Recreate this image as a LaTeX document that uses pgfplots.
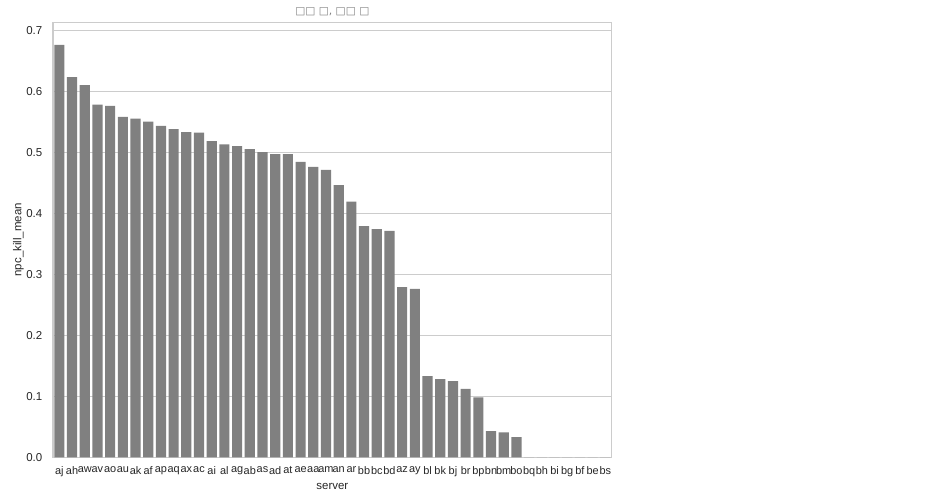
\documentclass[border=0pt]{standalone}
\usepackage{pgfplots}
\pgfplotsset{compat=1.18}
\usepackage{pgfplotstable}
\usepackage{fontspec}
\setmainfont{Liberation Sans}
\newfontfamily\boxfont{DejaVu Sans}
\definecolor{bargray}{HTML}{808080}
\definecolor{gridgray}{HTML}{CCCCCC}
\definecolor{textgray}{HTML}{262626}

% server, npc_kill_mean (sorted)
\pgfplotstableread{
idx server value
0  aj 0.676
1  ah 0.623
2  aw 0.610
3  av 0.578
4  ao 0.576
5  au 0.558
6  ak 0.555
7  af 0.550
8  ap 0.543
9  aq 0.538
10 ax 0.533
11 ac 0.532
12 ai 0.518
13 al 0.513
14 ag 0.510
15 ab 0.505
16 as 0.500
17 ad 0.497
18 at 0.497
19 ae 0.484
20 aa 0.476
21 am 0.471
22 an 0.446
23 ar 0.419
24 bb 0.379
25 bc 0.374
26 bd 0.371
27 az 0.279
28 ay 0.276
29 bl 0.133
30 bk 0.128
31 bj 0.125
32 br 0.112
33 bp 0.098
34 bn 0.043
35 bm 0.041
36 bo 0.033
37 bq 0
38 bh 0
39 bi 0
40 bg 0
41 bf 0
42 be 0
43 bs 0
}\servers

\begin{document}
\begin{tikzpicture}
\path[use as bounding box] (0,0) rectangle (710.25pt,369.75pt);
\begin{axis}[
  at={(39.75pt,26.8pt)}, anchor=south west,
  scale only axis, width=419pt, height=326.25pt,
  xmin=-0.5, xmax=43.5, ymin=0, ymax=0.713,
  xtick=data,
  xticklabels from table={\servers}{server},
  ytick={0,0.1,...,0.7},
  /pgf/number format/fixed,
  /pgf/number format/fixed zerofill,
  /pgf/number format/precision=1,
  /pgf/number format/assume math mode=true,
  major tick length=0pt,
  ymajorgrids, grid style={gridgray, line width=0.75pt},
  axis line style={gridgray, line width=0.9pt},
  tick label style={font=\fontsize{8.6}{10}\selectfont, text=textgray},
  yticklabel style={xshift=-4.5pt},
  xticklabel style={font=\fontsize{8.2}{10}\selectfont, yshift=-6pt, inner sep=0.5pt},
  label style={font=\fontsize{8.6}{10}\selectfont, text=textgray},
  xlabel={server},
  ylabel={npc\_kill\_mean},
  xlabel style={yshift=-1.5pt},
  ylabel style={yshift=-5pt},
  title={\boxfont □□ □, □□ □},
  title style={font=\fontsize{8}{10}\selectfont, text=gray, yshift=-5pt},
]
\addplot[ybar, bar width=0.8, fill=bargray, draw=none] table[x=idx, y=value] {\servers};
\end{axis}
\end{tikzpicture}
\end{document}
